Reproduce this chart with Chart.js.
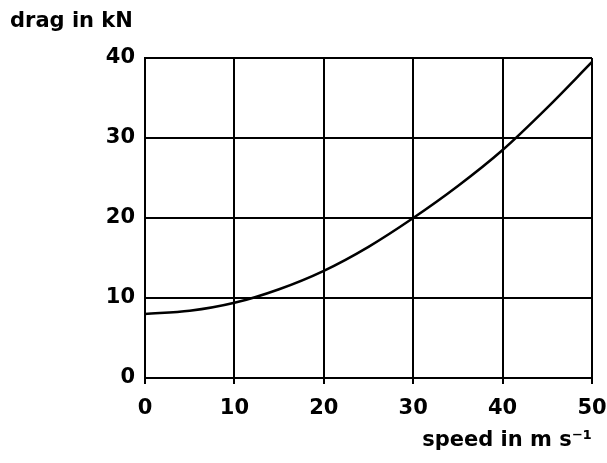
<!DOCTYPE html>
<html>
<head>
<meta charset="utf-8">
<script src="https://cdn.jsdelivr.net/npm/chart.js@4.4.0/dist/chart.umd.min.js"></script>
<style>
  html, body { margin: 0; padding: 0; background: #fff; }
  #wrap { width: 607px; height: 463px; }
</style>
</head>
<body>
<div id="wrap"><canvas id="drag"></canvas></div>
<script>
// speed in m/s and drag in kN
let speeds = [0, 5, 10, 15, 20, 25, 30, 35, 40, 45, 50];
let drags = [8, 8.4, 9.4, 11.1, 13.4, 16.4, 20, 24, 28.5, 33.8, 39.5];
let xTicks = [0, 10, 20, 30, 40, 50];
let yTicks = [0, 10, 20, 30, 40];

let labelFont = {family: "'DejaVu Sans', sans-serif", size: 21, weight: 'bold'};

// "drag in kN" sits above the axis, top left
let yTitle = {
    id: 'yTitle',
    afterDraw: function (chart) {
        let ctx = chart.ctx;
        ctx.save();
        ctx.font = "bold 21px 'DejaVu Sans', sans-serif";
        ctx.fillStyle = '#000';
        ctx.textBaseline = 'middle';
        ctx.fillText('drag in kN', 10, 22);
        ctx.restore();
    }
};

let points = speeds.map(function (s, i) { return {x: s, y: drags[i]}; });

new Chart(document.getElementById('drag').getContext('2d'), {
    type: 'line',
    data: {
        datasets: [{
            data: points,
            borderColor: '#000',
            borderWidth: 2.5,
            pointRadius: 0,
            cubicInterpolationMode: 'monotone',
            fill: false
        }]
    },
    options: {
        responsive: true,
        maintainAspectRatio: false,
        animation: false,
        layout: {padding: {top: 58, right: 15, left: 0, bottom: 0}},
        plugins: {legend: {display: false}, tooltip: {enabled: false}},
        scales: {
            x: {
                type: 'linear',
                min: 0, max: 50,
                afterBuildTicks: function (axis) { axis.ticks = xTicks.map(function (v) { return {value: v}; }); },
                afterFit: function (axis) {
                    axis.height = 85;
                    axis.paddingLeft = 0;
                    axis.paddingRight = 0;
                },
                grid: {color: '#000', lineWidth: 2, drawTicks: true, tickLength: 6},
                border: {color: '#000', width: 2},
                ticks: {color: '#000', font: labelFont, padding: 12, maxRotation: 0},
                title: {display: true, text: 'speed in m s⁻¹', align: 'end', color: '#000', font: labelFont, padding: {top: 4, bottom: 10}}
            },
            y: {
                min: 0, max: 40,
                afterBuildTicks: function (axis) { axis.ticks = yTicks.map(function (v) { return {value: v}; }); },
                afterFit: function (axis) { axis.width = 145; },
                grid: {color: '#000', lineWidth: 2, drawTicks: false},
                border: {color: '#000', width: 2},
                ticks: {color: '#000', font: labelFont, padding: 10}
            }
        }
    },
    plugins: [yTitle]
});
</script>
</body>
</html>
